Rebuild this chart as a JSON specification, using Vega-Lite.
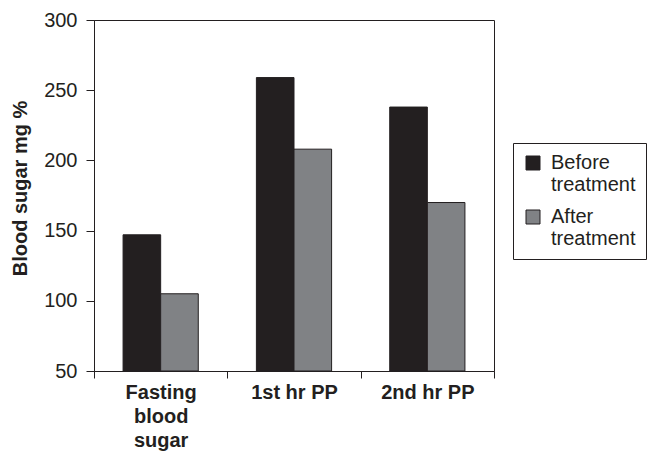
{
  "$schema": "https://vega.github.io/schema/vega-lite/v6.json",
  "autosize": {"type": "none"},
  "padding": {"left": 94, "top": 20, "right": 154, "bottom": 82},
  "width": 400,
  "height": 351,
  "background": "white",
  "config": {
    "font": "Liberation Sans",
    "view": {"stroke": "#231f20", "strokeWidth": 1}
  },
  "data": {
    "values": [
      {"test": "Fasting blood sugar", "group": "Before treatment", "value": 147},
      {"test": "Fasting blood sugar", "group": "After treatment", "value": 105},
      {"test": "1st hr PP", "group": "Before treatment", "value": 259},
      {"test": "1st hr PP", "group": "After treatment", "value": 208},
      {"test": "2nd hr PP", "group": "Before treatment", "value": 238},
      {"test": "2nd hr PP", "group": "After treatment", "value": 170}
    ]
  },
  "mark": {"type": "bar", "stroke": "#231f20", "strokeWidth": 1},
  "encoding": {
    "x": {
      "field": "test",
      "type": "nominal",
      "sort": ["Fasting blood sugar", "1st hr PP", "2nd hr PP"],
      "scale": {"paddingInner": 0, "paddingOuter": 0},
      "axis": {
        "title": null,
        "labelAngle": 0,
        "labelExpr": "datum.label == 'Fasting blood sugar' ? ['Fasting', 'blood', 'sugar'] : datum.label",
        "labelFont": "Liberation Sans",
        "labelFontSize": 20,
        "labelFontWeight": "bold",
        "labelColor": "#231f20",
        "labelLineHeight": 24,
        "labelPadding": 4,
        "tickSize": 7,
        "tickBand": "extent",
        "tickColor": "#231f20",
        "domainColor": "#231f20"
      }
    },
    "xOffset": {
      "field": "group",
      "type": "nominal",
      "sort": ["Before treatment", "After treatment"],
      "scale": {"paddingInner": 0, "paddingOuter": 0.773}
    },
    "y": {
      "field": "value",
      "type": "quantitative",
      "scale": {"domain": [50, 300], "zero": false, "nice": false},
      "axis": {
        "title": "Blood sugar mg %",
        "titleFont": "Liberation Sans",
        "titleFontSize": 20,
        "titleFontWeight": "bold",
        "titleColor": "#231f20",
        "titleX": -64,
        "titleY": 168,
        "values": [50, 100, 150, 200, 250, 300],
        "labelFont": "Liberation Sans",
        "labelFontSize": 20,
        "labelColor": "#231f20",
        "labelPadding": 9,
        "tickSize": 8,
        "tickColor": "#231f20",
        "domainColor": "#231f20",
        "grid": false
      }
    },
    "y2": {"datum": 50},
    "color": {
      "field": "group",
      "type": "nominal",
      "sort": ["Before treatment", "After treatment"],
      "scale": {"domain": ["Before treatment", "After treatment"], "range": ["#231f20", "#808285"]},
      "legend": {
        "title": null,
        "orient": "none",
        "legendX": 419,
        "legendY": 123,
        "strokeColor": "#231f20",
        "padding": 10,
        "symbolType": "square",
        "symbolSize": 196,
        "symbolStrokeColor": "#231f20",
        "symbolStrokeWidth": 1,
        "symbolOpacity": 1,
        "labelExpr": "split(datum.label, ' ')",
        "labelFont": "Liberation Sans",
        "labelFontSize": 20,
        "labelColor": "#231f20",
        "labelLineHeight": 23,
        "labelLimit": 200,
        "labelOffset": 8,
        "rowPadding": 12
      }
    }
  }
}
